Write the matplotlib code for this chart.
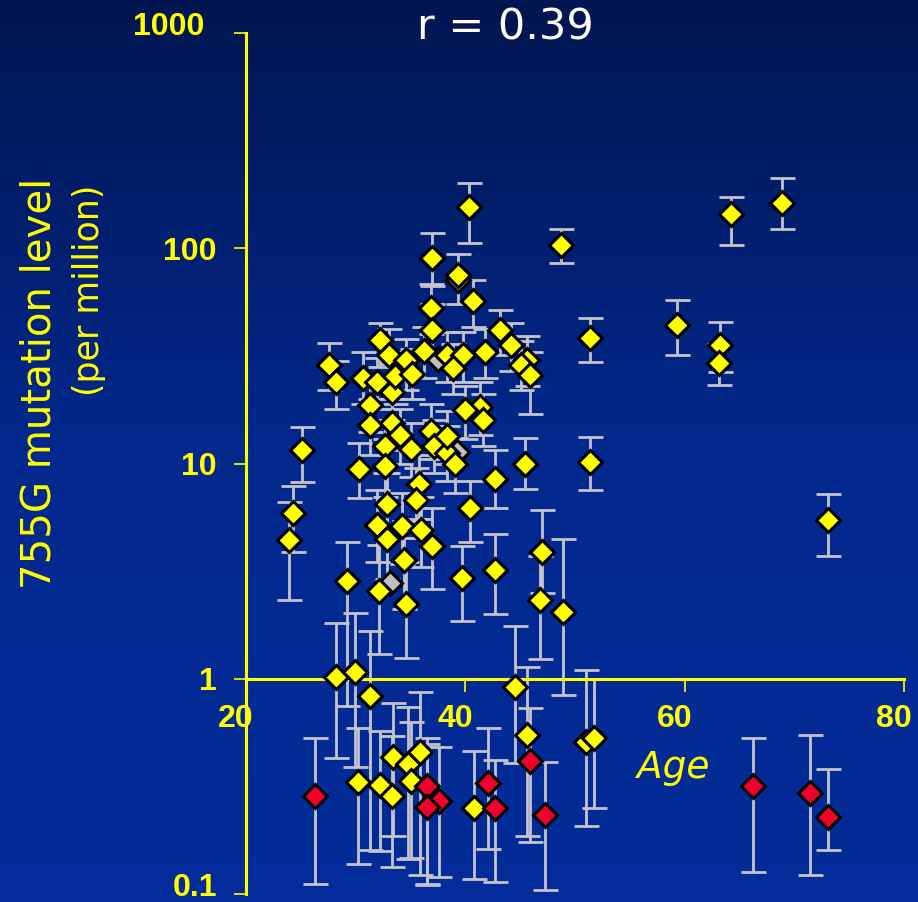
import numpy as np
import matplotlib
matplotlib.use("Agg")
import matplotlib.pyplot as plt
from matplotlib.colors import LinearSegmentedColormap
from matplotlib.transforms import ScaledTranslation

# ---------------- data ----------------
yellow_age = [40.3, 48.7, 64.2, 68.9, 59.3, 63.2, 63.1, 51.4, 51.4, 73.1,
              37.0, 39.3, 40.7, 36.9, 37.0, 32.2, 33.0, 27.6, 28.2, 30.7,
              31.9, 33.3, 33.6, 34.6, 36.2, 38.3, 39.8, 41.8, 43.2, 44.2,
              45.6, 45.1, 45.9, 41.3, 40.0, 41.6, 31.3, 38.9, 35.1, 31.3,
              33.3, 34.0, 35.0, 32.7, 36.9, 37.1, 38.3, 39.1, 38.3, 42.7,
              45.4, 35.8, 35.5, 32.9, 31.9, 34.2, 32.9, 36.0, 37.0, 34.4,
              32.1, 34.6, 39.7, 40.4, 42.7, 47.0, 46.8, 48.9, 25.1, 24.3,
              23.9, 29.2, 30.3, 32.7, 28.2, 29.9, 31.3, 44.5, 45.6, 51.0,
              51.7, 30.2, 32.2, 33.3, 33.4, 34.8, 35.9, 35.0, 40.8]
yellow_level = [155, 104, 144, 163, 44, 35.6, 29.4, 38.4, 10.2, 5.47,
                89.8, 75, 57, 53, 41.7, 37.6, 32, 28.7, 23.9, 24.9,
                24, 21.6, 25.4, 30.3, 33.5, 32, 32, 33.1, 41.7, 35.6,
                30.3, 28.7, 25.8, 18.3, 17.8, 16, 18.8, 27.7, 26, 15.1,
                15.4, 13.5, 11.7, 12.0, 14.1, 12.1, 11.2, 9.9, 13.4, 8.5,
                9.9, 8.0, 6.8, 6.5, 5.2, 5.1, 4.45, 4.9, 4.15, 3.57,
                2.56, 2.23, 2.94, 6.2, 3.2, 3.88, 2.33, 2.04, 11.5, 5.9,
                4.39, 2.86, 9.45, 9.7, 1.02, 1.08, 0.83, 0.92, 0.55, 0.507,
                0.53, 0.33, 0.32, 0.284, 0.435, 0.40, 0.455, 0.336, 0.25]
yellow_lo = [106, 85, 104, 123, 32, 26.7, 23.2, 29.7, 7.55, 3.7,
             67, 55, 43, 40, 31, 28, 24, 22, 18, 19,
             18, 16, 19, 22, 25, 24, 24, 25, 32, 27,
             23, 22, 17, 13.5, 13, 12, 14, 21, 20, 11,
             11.5, 10, 8.7, 9, 10.5, 9, 8.3, 7.3, 10, 6.2,
             7.6, 5.5, 4.5, 4.5, 3.5, 3.4, 2.9, 3.3, 2.6, 2.1,
             1.3, 1.25, 1.86, 4.3, 2.0, 2.5, 1.24, 0.84, 8.2, 3.9,
             2.33, 0.75, 6.9, 7, 0.43, 0.39, 0.16, 0.405, 0.185, 0.208,
             0.25, 0.138, 0.158, 0.134, 0.185, 0.145, 0.123, 0.147, 0.118]
yellow_hi = [201, 123, 173, 212, 57.6, 45.5, 36, 47.5, 13.3, 7.2,
             118, 94, 71.5, 68, 55, 45, 42, 36.4, 30, 33,
             31, 29, 33, 38, 43, 41, 41, 42, 51.6, 45,
             39, 37, 33, 24, 23, 21, 24, 36, 34, 20,
             20, 18, 15.5, 16, 19, 16, 15, 13.2, 17.5, 11.5,
             13.1, 11, 9.5, 9, 7.5, 7.3, 6.5, 7, 6.2, 5.4,
             4.2, 3.5, 4.15, 8.3, 4.7, 6.1, 3.7, 4.45, 14.8, 7.9,
             6.6, 4.3, 12.5, 13, 1.82, 2.03, 1.67, 1.76, 1.14, 1.1,
             1.0, 0.59, 0.57, 0.54, 0.77, 0.74, 0.87, 0.63, 0.46]

red_age = [26.3, 36.5, 37.6, 36.5, 42.1, 42.7, 45.9, 47.3, 66.2, 71.4, 73.1]
red_level = [0.286, 0.316, 0.27, 0.253, 0.327, 0.25, 0.417, 0.232, 0.316, 0.296, 0.229]
red_lo = [0.111, 0.111, 0.12, 0.11, 0.161, 0.114, 0.175, 0.104, 0.127, 0.122, 0.16]
red_hi = [0.53, 0.53, 0.48, 0.5, 0.59, 0.42, 0.73, 0.41, 0.53, 0.55, 0.38]

grey_age = [33.1, 39.3, 37.5, 39.2]
grey_level = [2.78, 71, 30.5, 11.3]

x_ticks = [20, 40, 60, 80]
y_ticks = [0.1, 1, 10, 100, 1000]
y_ticklabels = ["0.1", "1", "10", "100", "1000"]

# ---------------- styling ----------------
YEL = "#ffff00"
RED = "#f2002c"
BAR = "#c4c4cc"

fig = plt.figure(figsize=(9.18, 9.02), dpi=100)

# gradient background
bg = fig.add_axes([0, 0, 1, 1], zorder=-10)
cmap = LinearSegmentedColormap.from_list("bg", ["#011550", "#03298f", "#042c9a"])
grad = np.linspace(0, 1, 256).reshape(-1, 1)
bg.imshow(grad, aspect="auto", cmap=cmap, extent=[0, 1, 0, 1], origin="upper")
bg.set_axis_off()

ax = fig.add_axes([0.268, 0.00887, 0.7168, 0.9545])
ax.set_facecolor("none")
ax.set_yscale("log")
ax.set_xlim(20, 80)
ax.set_ylim(0.1, 1000)

def draw(age, level, lo, hi):
    age = np.asarray(age); level = np.asarray(level)
    yerr = np.vstack([level - np.asarray(lo), np.asarray(hi) - level])
    ax.errorbar(age, level, yerr=yerr, fmt="none", ecolor=BAR, elinewidth=2,
                capsize=9, capthick=2, zorder=2, clip_on=False)

draw(yellow_age, yellow_level, yellow_lo, yellow_hi)
draw(red_age, red_level, red_lo, red_hi)

mk = dict(linestyle="none", marker="D", markersize=12.5,
          markeredgecolor="black", markeredgewidth=2.2, clip_on=False)
ax.plot(grey_age, grey_level, markerfacecolor="#c0c0c0", zorder=3, **mk)
ax.plot(yellow_age, yellow_level, markerfacecolor=YEL, zorder=4, **mk)
ax.plot(red_age, red_level, markerfacecolor=RED, zorder=5, **mk)

# spines
for s in ["top", "right"]:
    ax.spines[s].set_visible(False)
ax.spines["left"].set_color(YEL)
ax.spines["left"].set_linewidth(2.2)
ax.spines["bottom"].set_color(YEL)
ax.spines["bottom"].set_linewidth(2.2)
ax.spines["bottom"].set_position(("data", 1))

ax.set_xticks(x_ticks)
ax.set_xticklabels([str(v) for v in x_ticks])
ax.set_yticks(y_ticks)
ax.set_yticklabels(y_ticklabels)
ax.minorticks_off()
ax.tick_params(axis="both", colors=YEL, length=9, width=1.2, direction="out")
ax.tick_params(axis="x", pad=9)
ax.tick_params(axis="y", pad=12)
for lab in ax.get_xticklabels() + ax.get_yticklabels():
    lab.set_fontfamily("Liberation Sans")
    lab.set_fontweight("bold")
    lab.set_fontsize(23)
    lab.set_color(YEL)
for lab in ax.get_xticklabels():
    lab.set_transform(lab.get_transform() + ScaledTranslation(-0.1, 0, fig.dpi_scale_trans))
ylabs = ax.get_yticklabels()
# first and last labels sit a little inside the axis ends
ylabs[0].set_transform(ylabs[0].get_transform() + ScaledTranslation(0, 0.09, fig.dpi_scale_trans))
ylabs[-1].set_transform(ylabs[-1].get_transform() + ScaledTranslation(-0.12, 0.1, fig.dpi_scale_trans))

# texts
fig.text(505 / 918, 1 - 28 / 902, "r = 0.39", color="white", fontsize=31,
         ha="center", va="center", family="DejaVu Sans")
fig.text(40 / 918, 1 - 383 / 902, "755G mutation level", color=YEL, fontsize=29,
         rotation=90, ha="center", va="center", family="DejaVu Sans")
fig.text(89 / 918, 1 - 290 / 902, "(per million)", color=YEL, fontsize=25,
         rotation=90, ha="center", va="center", family="DejaVu Sans")
fig.text(673 / 918, 1 - 768 / 902, "Age", color=YEL, fontsize=27, style="italic",
         ha="center", va="center", family="DejaVu Sans")

fig.savefig("out.png", dpi=100)
